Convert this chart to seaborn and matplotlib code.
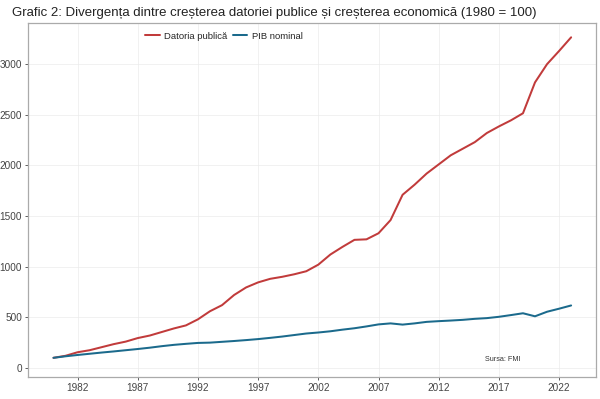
#!/usr/bin/env python3
"""
Debt vs nominal GDP growth index (1980 = 100)
"""

import matplotlib
matplotlib.use('Agg')
import matplotlib.pyplot as plt
import pandas as pd
import seaborn as sns

years = list(range(1980, 2024))

datoria = [100, 120, 155, 175, 205, 235, 260, 295, 320, 355,
           390, 420, 480, 560, 620, 720, 795, 845, 880, 900,
           925, 955, 1020, 1120, 1195, 1265, 1270, 1330, 1460, 1710,
           1810, 1920, 2010, 2100, 2165, 2230, 2320, 2385, 2445, 2515,
           2820, 3000, 3130, 3265]

pib = [100, 115, 128, 140, 152, 163, 175, 187, 200, 215,
       228, 238, 247, 250, 258, 266, 275, 285, 297, 310,
       325, 340, 350, 362, 378, 392, 410, 430, 440, 428,
       440, 455, 462, 468, 475, 485, 492, 505, 522, 540,
       510, 555, 585, 617]

series_names = ['Datoria publică', 'PIB nominal']
colors = ['#c13b3b', '#1b6a8c']

df = pd.DataFrame({'an': years * 2,
                   'valoare': datoria + pib,
                   'serie': [series_names[0]] * len(years) + [series_names[1]] * len(years)})

sns.set_theme(style='whitegrid')
plt.rcParams['font.family'] = ['Liberation Sans', 'DejaVu Sans']

fig = plt.figure(figsize=(6, 3.99), dpi=100)
ax = fig.add_axes([0.047, 0.055, 0.947, 0.887])

sns.lineplot(data=df, x='an', y='valoare', hue='serie', palette=colors,
             linewidth=1.45, ax=ax)

ax.set_xlim(1977.9, 2025.1)
ax.set_ylim(-90, 3405)
ax.set_xticks(range(1982, 2023, 5))
ax.set_yticks(range(0, 3001, 500))
ax.set_xlabel('')
ax.set_ylabel('')
ax.tick_params(labelsize=7.2, colors='#444444', length=2.5, width=0.6,
               pad=2, bottom=True, left=True)
ax.grid(True, color='#ebebeb', linewidth=0.5)
for s in ax.spines.values():
    s.set_color('#aaaaaa')
    s.set_linewidth(0.9)

ax.legend(loc='upper center', bbox_to_anchor=(0.345, 1.0), ncol=2, frameon=False,
          fontsize=6.8, handlelength=1.5, columnspacing=0.6, handletextpad=0.5)

ax.text(2017.3, 70, 'Sursa: FMI', fontsize=5.2, color='#333333', ha='center')

fig.text(0.02, 0.967, 'Grafic 2: Divergența dintre creșterea datoriei publice și creșterea economică (1980 = 100)',
         fontsize=9.5, ha='left', va='center', color='#222222')

fig.savefig('out.png', dpi=100)
